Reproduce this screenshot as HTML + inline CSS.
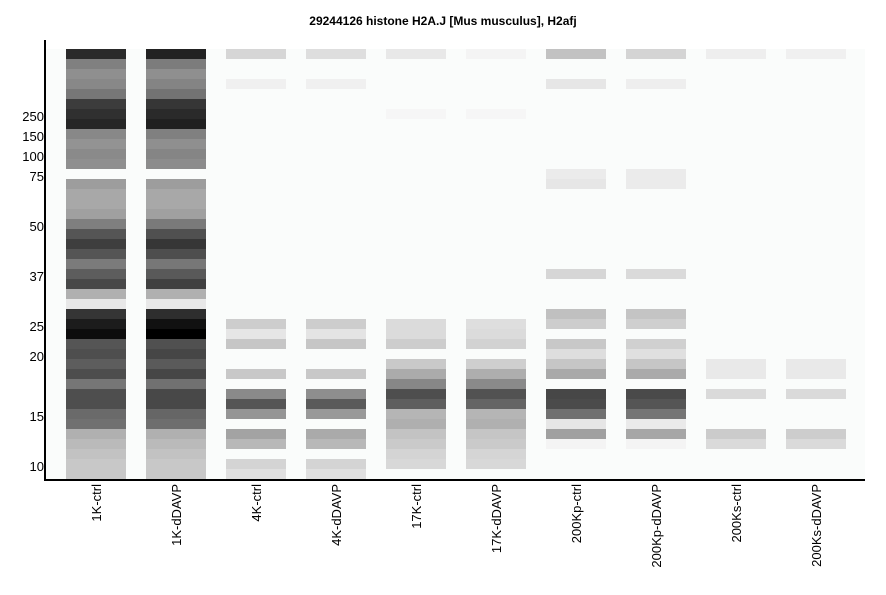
<!DOCTYPE html>
<html><head><meta charset="utf-8"><style>body{margin:0;background:#fff}svg{display:block}text{font-family:"Liberation Sans",sans-serif}</style></head><body>
<svg width="886" height="595" xmlns="http://www.w3.org/2000/svg">
<rect width="886" height="595" fill="#fff"/>
<rect x="46" y="49" width="819" height="430" fill="#fafcfb"/>
<text x="443" y="25" font-size="12" font-weight="bold" text-anchor="middle">29244126 histone H2A.J [Mus musculus], H2afj</text>
<g id="bands"></g>
<rect x="44" y="40" width="2" height="441" fill="#000"/>
<rect x="44" y="479" width="821" height="2" fill="#000"/>
<g font-size="13" text-anchor="end" fill="#000">
<text x="44" y="121">250</text><text x="44" y="141">150</text><text x="44" y="161">100</text><text x="44" y="181">75</text><text x="44" y="231">50</text><text x="44" y="281">37</text><text x="44" y="331">25</text><text x="44" y="361">20</text><text x="44" y="421">15</text><text x="44" y="471">10</text>
</g>
<g font-size="13" text-anchor="end" fill="#000" id="xl"></g>
<script>
var L=[
{0:'2a2a2a',1:'808080',2:'8f8f8f',3:'888',4:'777',5:'3c3c3c',6:'303030',7:'262626',8:'888',9:'939393',10:'8a8a8a',11:'8f8f8f',13:'9d9d9d',14:'a8a8a8',15:'a8a8a8',16:'a0a0a0',17:'7f7f7f',18:'555',19:'3e3e3e',20:'555',21:'7b7b7b',22:'5d5d5d',23:'484848',24:'b0b0b0',25:'e8e8e8',26:'353535',27:'1c1c1c',28:'0d0d0d',29:'555',30:'4e4e4e',31:'5d5d5d',32:'4d4d4d',33:'767676',34:'4e4e4e',35:'4e4e4e',36:'6a6a6a',37:'707070',38:'b0b0b0',39:'bababa',40:'c2c2c2',41:'c8c8c8',42:'c8c8c8'},
{0:'222',1:'7c7c7c',2:'8f8f8f',3:'848484',4:'737373',5:'363636',6:'2a2a2a',7:'202020',8:'808080',9:'8f8f8f',10:'858585',11:'8c8c8c',13:'9d9d9d',14:'a8a8a8',15:'a8a8a8',16:'a0a0a0',17:'7a7a7a',18:'505050',19:'363636',20:'4e4e4e',21:'777',22:'595959',23:'404040',24:'b0b0b0',25:'e8e8e8',26:'2e2e2e',27:'111',28:'000',29:'505050',30:'464646',31:'5a5a5a',32:'464646',33:'717171',34:'484848',35:'484848',36:'666',37:'6e6e6e',38:'b0b0b0',39:'bababa',40:'c2c2c2',41:'c8c8c8',42:'c8c8c8'},
{0:'d6d6d6',3:'f0f0f0',27:'cdcdcd',28:'e6e6e6',29:'c6c6c6',32:'c8c8c8',34:'8a8a8a',35:'555',36:'959595',38:'a3a3a3',39:'b8b8b8',41:'d4d4d4',42:'e0e0e0'},
{0:'dedede',3:'f0f0f0',27:'cdcdcd',28:'e4e4e4',29:'c6c6c6',32:'c8c8c8',34:'8e8e8e',35:'5a5a5a',36:'999',38:'aaa',39:'b8b8b8',41:'d4d4d4',42:'e0e0e0'},
{0:'e8e8e8',6:'f6f6f6',27:'dbdbdb',28:'dbdbdb',29:'cdcdcd',31:'c9c9c9',32:'ababab',33:'878787',34:'4e4e4e',35:'5e5e5e',36:'b5b5b5',37:'afafaf',38:'c3c3c3',39:'cacaca',40:'d4d4d4',41:'d8d8d8'},
{0:'f4f4f4',6:'f6f6f6',27:'dedede',28:'dbdbdb',29:'d2d2d2',31:'cfcfcf',32:'aeaeae',33:'8a8a8a',34:'525252',35:'646464',36:'b5b5b5',37:'b0b0b0',38:'c5c5c5',39:'cacaca',40:'d5d5d5',41:'d8d8d8'},
{0:'c2c2c2',3:'e6e6e6',12:'ebebeb',13:'e6e6e6',22:'d6d6d6',26:'c0c0c0',27:'cdcdcd',29:'c8c8c8',30:'dedede',31:'c6c6c6',32:'a9a9a9',34:'474747',35:'4b4b4b',36:'707070',37:'e6e6e6',38:'a0a0a0',39:'f4f4f4'},
{0:'d4d4d4',3:'eeeeee',12:'ebebeb',13:'ebebeb',22:'dadada',26:'c4c4c4',27:'cfcfcf',29:'d0d0d0',30:'e0e0e0',31:'c6c6c6',32:'aaaaaa',34:'4a4a4a',35:'555',36:'757575',37:'eaeaea',38:'a6a6a6',39:'f4f4f4'},
{0:'eeeeee',31:'e9e9e9',32:'e9e9e9',34:'dadada',38:'cbcbcb',39:'dadada'},
{0:'f0f0f0',31:'e9e9e9',32:'e9e9e9',34:'dadada',38:'cdcdcd',39:'dadada'}];
var names=['1K-ctrl','1K-dDAVP','4K-ctrl','4K-dDAVP','17K-ctrl','17K-dDAVP','200Kp-ctrl','200Kp-dDAVP','200Ks-ctrl','200Ks-dDAVP'];
var ns='http://www.w3.org/2000/svg',g=document.getElementById('bands'),xl=document.getElementById('xl');
L.forEach(function(l,i){var x=66+80*i;for(var r in l){var e=document.createElementNS(ns,'rect');e.setAttribute('x',x);e.setAttribute('y',49+10*r);e.setAttribute('width',60);e.setAttribute('height',10);e.setAttribute('fill','#'+l[r]);g.appendChild(e);}
var t=document.createElementNS(ns,'text');var cx=x+30+5;t.setAttribute('transform','translate('+cx+',484) rotate(-90)');t.textContent=names[i];xl.appendChild(t);});
</script>
</svg>
</body></html>
